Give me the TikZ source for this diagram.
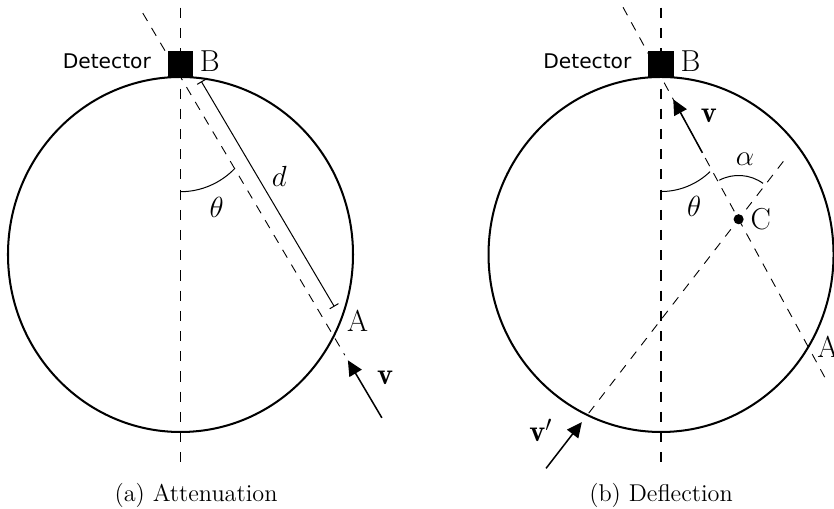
\documentclass[tikz,border=0pt]{standalone}
\usepackage{amsmath}
\usepackage{fontspec}
\newfontfamily\detfont{DejaVu Sans}
\usepackage{tikz}
\usetikzlibrary{positioning,calc,arrows.meta}
\tikzset{
  det/.style={fill=black,minimum size=12.5pt,inner sep=0pt},
  detlbl/.style={font=\detfont\fontsize{10}{12}\selectfont,inner sep=0pt},
  lbl/.style={font=\fontsize{15}{18}\selectfont,inner sep=2pt},
  subcap/.style={font=\fontsize{12}{14}\selectfont,anchor=base},
  vaxis/.style={line width=0.6pt,dash pattern=on 5pt off 5pt},
  ray/.style={line width=0.45pt,dash pattern=on 4.5pt off 4pt},
  vec/.style={-{Triangle[length=7.5pt,width=7pt]},line width=0.75pt},
  dimline/.style={{Bar[width=5pt]}-{Bar[width=5pt]},line width=0.5pt},
  anglearc/.style={line width=0.5pt},
  ptdot/.style={circle,fill=black,minimum size=5pt,inner sep=0pt}
}
\newcommand{\bv}[1]{\mathbf{#1}}

\begin{document}
\begin{tikzpicture}[yscale=1.029]
  \useasboundingbox (-3.139,-4.301) rectangle (11.365,4.301);

  % (a) attenuation
  \coordinate (O) at (0,0);
  \coordinate (B) at (90:3);
  \coordinate (A) at (-27.4:3);
  \coordinate (topA) at (0,4.17);
  \coordinate (botA) at (0,-3.68);
  \draw[vaxis] (topA) -- (botA);
  \draw[line width=1pt] (O) circle (3);
  \draw[ray] ($(B)!-0.246!(A)$) -- ($(B)!1.073!(A)$);
  \draw[dimline] ($(B)!0.049!(A)!0.27cm!90:(A)$) -- node[lbl,pos=0.42,right=5pt] (labd) {$d$} ($(B)!0.918!(A)!0.27cm!90:(A)$);
  \draw[anglearc] (0,1.061) arc (-90:-44.7:1.333);
  \node[lbl] (thetaA) at (0.63,0.794) {$\theta$};
  \draw[vec] ($(B)!1.315!(A)$) -- ($(B)!1.093!(A)$);
  \node[lbl] (labvA) at (3.557,-2.087) {$\bv{v}$};
  \node[lbl,anchor=south west] (labA) at ([xshift=4.5pt]A) {A};
  \node[det,anchor=south] (detA) at (B) {};
  \node[detlbl,left=8pt of detA,yshift=1.5pt] (detlblA) {Detector};
  \node[lbl,inner sep=0pt,anchor=north west] (labB) at ([xshift=3pt]detA.north east) {B};
  \node[subcap] (capA) at (0.27,-4.178) {(a) Attenuation};

  % (b) deflection
  \begin{scope}[xshift=8.357cm]
    \coordinate (O2) at (0,0);
    \coordinate (B2) at (90:3);
    \coordinate (A2) at (-31.4:3);
    \coordinate (C) at ($(B2)!0.527!(A2)$);
    \coordinate (topB) at (0,4.17);
    \coordinate (botB) at (0,-3.68);
    \draw[vaxis] (topB) -- (botB);
    \draw[line width=1pt] (O2) circle (3);
    \draw[ray] ($(B2)!-0.258!(A2)$) -- ($(B2)!1.116!(A2)$);
    \draw[ray] ($(C)+(51.5:1.25)$) -- ($(C)+(231.5:4.27)$);
    \draw[anglearc] (0,1.064) arc (-90:-47:1.25);
    \draw[anglearc] ($(C)+(117:0.74)$) arc (117:55:0.74);
    \draw[vec] ($(B2)!0.281!(A2)$) -- ($(B2)!0.083!(A2)$);
    \draw[vec] ($(C)+(231.5:5.38)$) -- ($(C)+(231.5:4.38)$);
    \node[ptdot] (dotC) at (C) {};
    \node[lbl,right=1pt of dotC] (labC) {C};
    \node[lbl] (thetaB) at (0.574,0.808) {$\theta$};
    \node[lbl] (alphaB) at (1.461,1.614) {$\alpha$};
    \node[lbl] (labvB) at (0.83,2.336) {$\bv{v}$};
    \node[lbl] (labvpB) at (-2.087,-2.974) {$\bv{v}'$};
    \node[lbl,anchor=west] (labA2) at ([xshift=2.3pt]A2) {A};
    \node[det,anchor=south] (detB) at (B2) {};
    \node[detlbl,left=8pt of detB,yshift=1.5pt] (detlblB) {Detector};
    \node[lbl,inner sep=0pt,anchor=north west] (labB2) at ([xshift=3pt]detB.north east) {B};
    \node[subcap] (capB) at (0,-4.178) {(b) Deflection};
  \end{scope}
\end{tikzpicture}
\end{document}
